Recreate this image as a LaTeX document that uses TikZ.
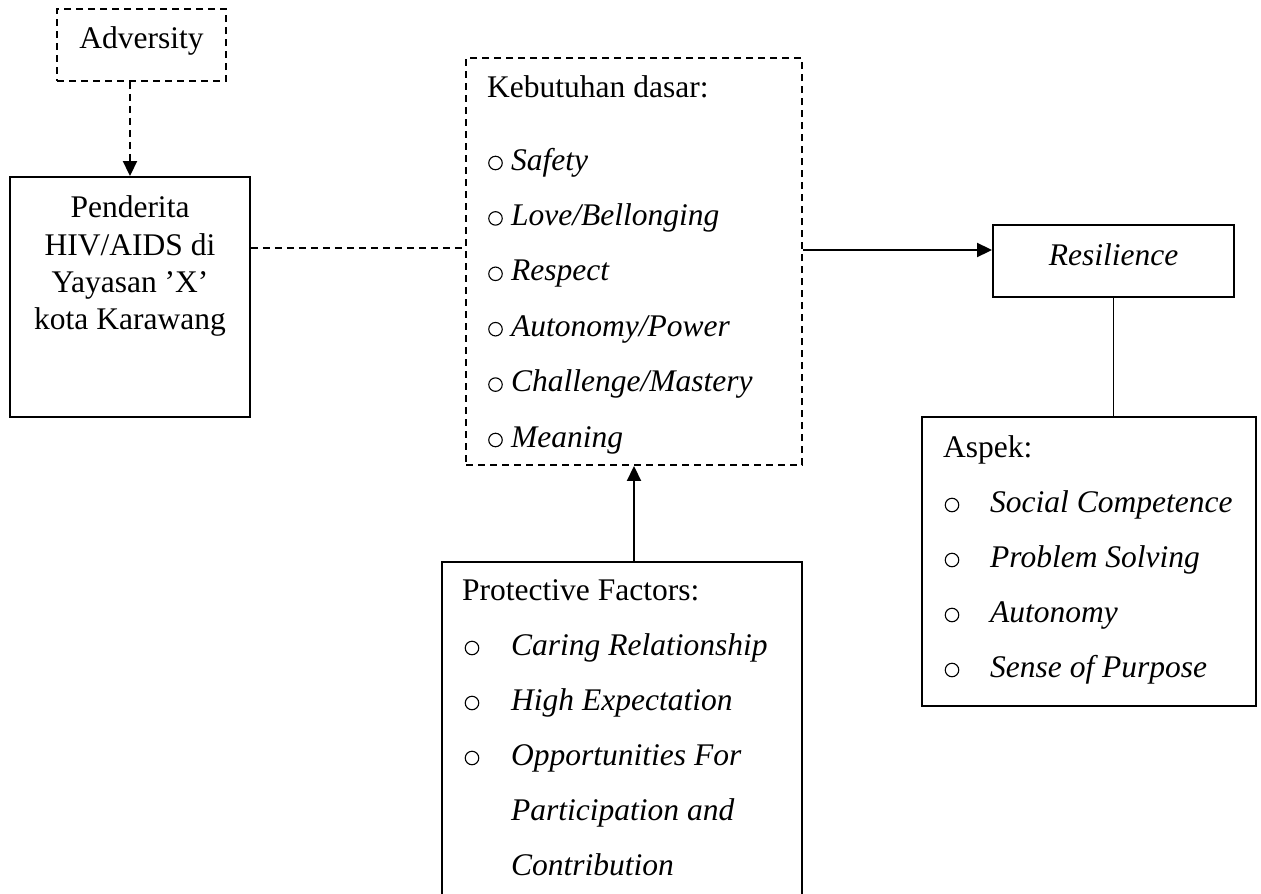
\documentclass[tikz,border=0pt]{standalone}
\usepackage{fontspec}
\setmainfont{Liberation Serif}
\usetikzlibrary{arrows.meta}
\tikzset{
  txt/.style={inner sep=0pt, font=\fontsize{31.5}{38}\selectfont},
  itxt/.style={inner sep=0pt, font=\fontsize{31.5}{38}\selectfont\itshape},
  bul/.style={draw, circle, inner sep=0pt, minimum size=13.5pt, line width=1.1pt},
  solidbox/.style={draw, line width=1.9pt, rectangle, inner sep=0pt},
  dashbox/.style={draw, line width=1.9pt, rectangle, inner sep=0pt, dash pattern=on 7pt off 5pt},
  dashline/.style={line width=1.9pt, dash pattern=on 7pt off 5pt},
  solidline/.style={line width=1.9pt},
  arr/.style={-{Triangle[length=15pt,width=14pt]}}
}
\begin{document}
\begin{tikzpicture}[x=1pt,y=-1pt]
\useasboundingbox (0,0) rectangle (1261,894);
\clip (0,0) rectangle (1261,894);
% boxes
\node[dashbox, minimum width=169pt, minimum height=72pt] (adv) at (141.5,45) {};
\node[solidbox, minimum width=240pt, minimum height=240pt] (pend) at (130,297) {};
\node[dashbox, minimum width=336pt, minimum height=407pt] (keb) at (634,261.5) {};
\node[solidbox, minimum width=241pt, minimum height=72pt] (res) at (1113.5,261) {};
\node[solidbox, minimum width=334pt, minimum height=289pt] (asp) at (1089,561.5) {};
\node[solidbox, minimum width=360pt, minimum height=360pt] (prot) at (622,742) {};
% texts
\node[txt, anchor=base] (tadv) at (141.5,48) {Adversity};
\node[txt, anchor=base] (tp1) at (130,217) {Penderita};
\node[txt, anchor=base] (tp2) at (130,255) {HIV/AIDS di};
\node[txt, anchor=base] (tp3) at (130,292) {Yayasan ’X’};
\node[txt, anchor=base] (tp4) at (130,329) {kota Karawang};
\node[txt, anchor=base west] (tk0) at (487,97) {Kebutuhan dasar:};
\foreach \t [count=\i from 0] in {Safety,Love/Bellonging,Respect,Autonomy/Power,Challenge/Mastery,Meaning}{
  \node[bul] (kb\i) at (495.5,163+55.4*\i) {};
  \node[itxt, anchor=base west] (tk\i) at (511,170+55.4*\i) {\t};
}
\node[itxt, anchor=base] (tres) at (1113.5,265) {Resilience};
\node[txt, anchor=base west] (ta0) at (943,457) {Aspek:};
\foreach \t [count=\i from 1] in {Social Competence,Problem Solving,Autonomy,Sense of Purpose}{
  \node[bul] (ab\i) at (952,450+55*\i) {};
  \node[itxt, anchor=base west] (ta\i) at (990,457+55*\i) {\t};
}
\node[txt, anchor=base west] (tf0) at (462,600) {Protective Factors:};
\foreach \t [count=\i from 1] in {Caring Relationship,High Expectation,Opportunities For}{
  \node[bul] (fb\i) at (472,593+55*\i) {};
  \node[itxt, anchor=base west] (tf\i) at (511,600+55*\i) {\t};
}
\node[itxt, anchor=base west] (tf4) at (511,820) {Participation and};
\node[itxt, anchor=base west] (tf5) at (511,875) {Contribution};
% connectors
\draw[dashline, arr] (adv.south -| pend.north) -- (pend.north);
\coordinate (c1) at ([yshift=-72pt]pend.north east);
\draw[dashline] (c1) -- (c1 -| keb.west);
\coordinate (c2) at ([yshift=11pt]res.west);
\draw[solidline, arr] (c2 -| keb.east) -- (c2);
\draw[solidline] (res.south) -- (res.south |- asp.north);
\draw[solidline, arr] (keb.south |- prot.north) -- (keb.south);
\end{tikzpicture}
\end{document}
